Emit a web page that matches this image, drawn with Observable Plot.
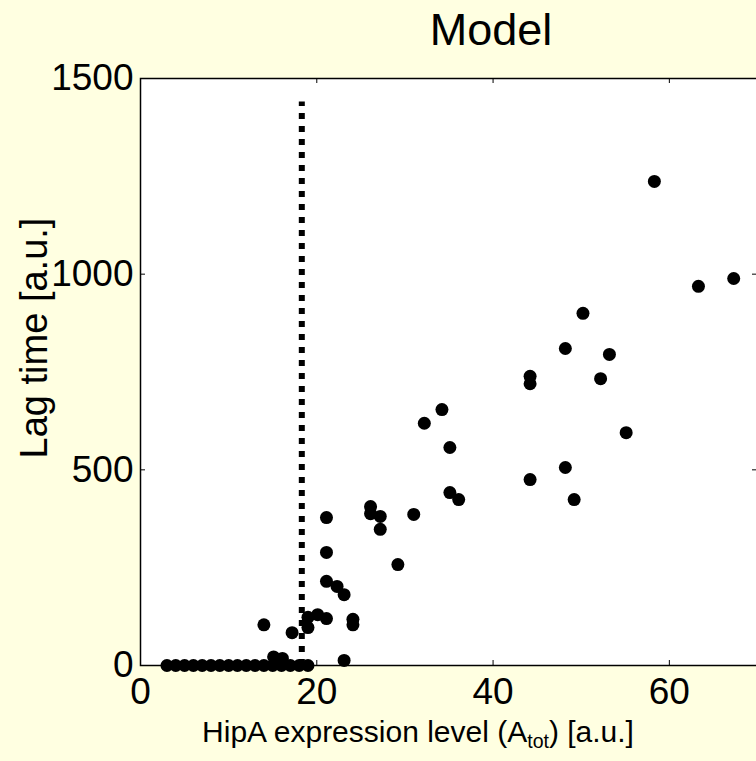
<!DOCTYPE html>
<html>
<head>
<meta charset="utf-8">
<script src="https://cdn.jsdelivr.net/npm/d3@7"></script>
<script src="https://cdn.jsdelivr.net/npm/@observablehq/plot@0.6"></script>
<style>
  html, body { margin: 0; padding: 0; background: #FFFFE1; }
  body { width: 756px; height: 761px; overflow: hidden; position: relative;
         font-family: "Liberation Sans", Arial, sans-serif; color: #000; }
  #title { height: 62px; position: relative; }
  #title span { position: absolute; left: 491px; top: 7px; transform: translateX(-50%);
                font-size: 45px; line-height: 1; white-space: nowrap; }
  #chart { height: 650px; }
  #xlabel { height: 49px; position: relative; }
  #xlabel span { position: absolute; left: 418px; top: 5px; transform: translateX(-50%);
                 font-size: 30px; line-height: 1; white-space: nowrap; }
  #xlabel sub { font-size: 0.65em; vertical-align: -0.3em; line-height: 0; }
</style>
</head>
<body>
<div id="title"><span>Model</span></div>
<div id="chart"></div>
<div id="xlabel"><span>HipA expression level (A<sub>tot</sub>) [a.u.]</span></div>
<script>
// ---- data ----
const titleText = "Model";
const yLabel = "Lag time [a.u.]";
const xTicks = [0, 20, 40, 60];
const yTicks = [0, 500, 1000, 1500];
const xDomain = [0, 70];
const yDomain = [0, 1500];

// threshold (dashed vertical line)
const thresholdX = [18.3];
const thresholdTop = [1440];

// simulated cells: HipA level (x) and lag time (y)
const hipA = [
  3, 4, 5, 6, 7, 8, 9, 10, 11, 12, 13, 14, 15, 16, 17, 18, 19,
  15.1, 16.1,
  14, 17.2, 19, 19, 20.1, 21.1, 21.1, 21.1, 21.1, 22.3, 23.1, 23.1,
  24.1, 24.1, 26.1, 26.1, 27.2, 27.2, 29.2, 31, 32.2, 34.2, 35.1, 35.1, 36.1,
  44.2, 44.2, 44.2, 48.2, 48.2, 49.2, 50.2, 52.2, 53.2, 55.1, 58.3, 63.3, 67.3
];
const lagTime = [
  0, 0, 0, 0, 0, 0, 0, 0, 0, 0, 0, 0, 0, 0, 0, 0, 0,
  22, 18,
  104, 84, 97, 123, 130, 120, 215, 289, 378, 202, 181, 13,
  118, 104, 406, 388, 381, 348, 258, 386, 619, 654, 557, 442, 424,
  739, 720, 475, 810, 506, 424, 900, 733, 795, 595, 1237, 969, 989
];

const points = hipA.map((x, i) => ({x, y: lagTime[i]}));
const threshold = thresholdX.map((x, i) => ({x, top: thresholdTop[i]}));

const W = 756, H = 650;
const mL = 140, mR = -1, mT = 16, mB = 47;
const innerW = W - mL - mR, innerH = H - mT - mB;
const tickLen = 5;

const chart = Plot.plot({
  width: W,
  height: H,
  marginLeft: mL,
  marginRight: mR,
  marginTop: mT,
  marginBottom: mB,
  style: {background: "transparent", fontFamily: "\"Liberation Sans\", Arial, sans-serif", color: "#000", overflow: "visible"},
  x: {domain: xDomain},
  y: {domain: yDomain},
  marks: [
    Plot.frame({fill: "white", stroke: null}),
    // inward ticks (bottom/top/left/right)
    Plot.tickX(xTicks, {x: d => d, insetTop: innerH - tickLen, stroke: "#000", strokeWidth: 1}),
    Plot.tickX(xTicks, {x: d => d, insetBottom: innerH - tickLen, stroke: "#000", strokeWidth: 1}),
    Plot.tickY(yTicks, {y: d => d, insetRight: innerW - tickLen, stroke: "#000", strokeWidth: 1}),
    Plot.tickY(yTicks, {y: d => d, insetLeft: innerW - tickLen, stroke: "#000", strokeWidth: 1}),
    Plot.axisX({ticks: xTicks, tickSize: 0, tickPadding: 12, fontSize: 37, label: null, tickFormat: d => String(d)}),
    Plot.axisY({ticks: yTicks, tickSize: 0, tickPadding: 7, fontSize: 37, label: null, tickFormat: d => String(d)}),
    Plot.text([yLabel], {text: d => d, frameAnchor: "left", textAnchor: "middle", rotate: -90, dx: -106, dy: -34, fontSize: 38}),
    Plot.ruleX(threshold, {x: "x", y1: 0, y2: "top", stroke: "#000", strokeWidth: 6, strokeDasharray: "6,7"}),
    Plot.dot(points, {x: "x", y: "y", r: 6.5, fill: "#000", stroke: null}),
    Plot.frame({stroke: "#000", strokeWidth: 1.5})
  ]
});
document.getElementById("chart").appendChild(chart);
document.querySelector("#title span").textContent = titleText;
</script>
</body>
</html>
